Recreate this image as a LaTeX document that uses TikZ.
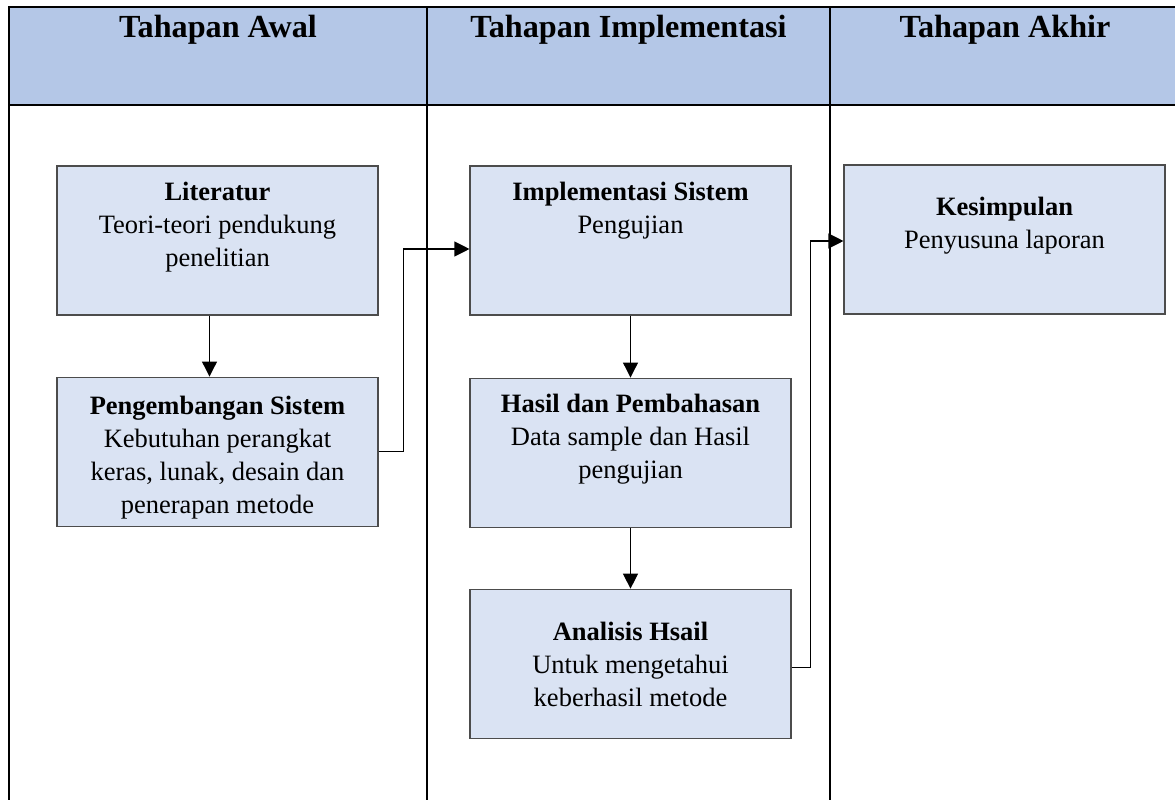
\documentclass[tikz,border=0pt]{standalone}
\usepackage{fontspec}
\setmainfont{Liberation Serif}
\usepackage{tikz}
\usetikzlibrary{positioning,arrows.meta}
\definecolor{headblue}{HTML}{B4C7E7}
\definecolor{boxblue}{HTML}{DAE3F3}

\begin{document}
\begin{tikzpicture}[x=1pt,y=-1pt]
  \tikzstyle{stepbox} = [rectangle, draw=black!70, line width=1.1pt, fill=boxblue, minimum width=321pt, minimum height=149pt, inner sep=0pt, align=center, font=\fontsize{26.5}{33}\selectfont, text height=51pt, text depth=0pt]
  \tikzstyle{head} = [anchor=base, font=\fontsize{32.2}{38}\selectfont\bfseries]
  \tikzstyle{arr} = [line width=1.1pt, -{Triangle[length=15pt,width=15pt]}]

  \useasboundingbox (0,0) rectangle (1175,800);
  \clip (0,0) rectangle (1175,800);

  % lanes
  \fill[headblue] (9,7) rectangle (1180,105);
  \draw[line width=2pt] (9,805) -- (9,7) -- (1180,7) -- (1180,805) -- cycle;
  \draw[line width=2pt] (9,105) -- (1180,105);
  \draw[line width=2pt] (427,7) -- (427,805);
  \draw[line width=2pt] (830,7) -- (830,805);

  \node[head] (awalHead) at (218,38) {Tahapan Awal};
  \node[head] (implHead) at (628.5,38) {Tahapan Implementasi};
  \node[head] (akhirHead) at (1005,38) {Tahapan Akhir};

  % steps
  \node[stepbox] (lit) at (217.5,240.5) {\textbf{Literatur}\\Teori-teori pendukung\\penelitian};
  \node[stepbox, text height=123pt, below=61pt of lit] (dev) {\textbf{Pengembangan Sistem}\\Kebutuhan perangkat\\keras, lunak, desain dan\\penerapan metode};
  \node[stepbox, text height=18pt, text depth=33pt] (sys) at (630.5,240.5) {\textbf{Implementasi Sistem}\\Pengujian};
  \node[stepbox, text height=52pt, below=62pt of sys] (res) {\textbf{Hasil dan Pembahasan}\\Data sample dan Hasil\\pengujian};
  \node[stepbox, text height=85pt, below=61pt of res] (ana) {\textbf{Analisis Hsail}\\Untuk mengetahui\\keberhasil metode};
  \node[stepbox, text height=17pt] (concl) at (1004.5,239.5) {\textbf{Kesimpulan}\\Penyusuna laporan};

  \draw[arr] ([xshift=-8pt]lit.south) -- ([xshift=-8pt]dev.north);
  \draw[arr] (dev.east) -- ++(25,0) |- ([yshift=-8.5pt]sys.west);
  \draw[arr] (sys) -- (res);
  \draw[arr] (res) -- (ana);
  \draw[arr] ([yshift=-3.5pt]ana.east) -- ++(19,0) |- ([yshift=-1.5pt]concl.west);

\end{tikzpicture}
\end{document}
